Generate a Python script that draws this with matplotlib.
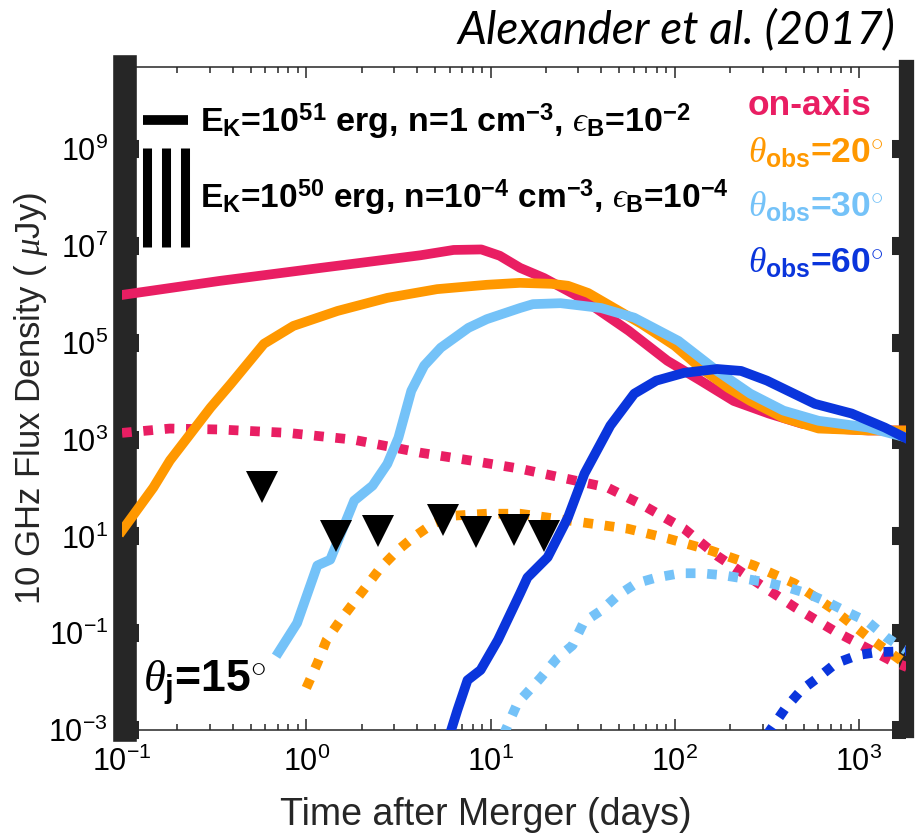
import numpy as np
import matplotlib
matplotlib.use('Agg')
import matplotlib.pyplot as plt
from matplotlib.ticker import NullLocator, LogLocator

plt.rcParams['font.family'] = 'Liberation Sans'
plt.rcParams['mathtext.fontset'] = 'custom'
plt.rcParams['mathtext.rm'] = 'Liberation Sans'
plt.rcParams['mathtext.bf'] = 'Liberation Sans:bold'
plt.rcParams['mathtext.it'] = 'Liberation Serif:italic'
plt.rcParams['mathtext.sf'] = 'Liberation Sans'
plt.rcParams['axes.unicode_minus'] = False

# colours of the four viewing angles
c_on = '#E91E63'
c_20 = '#FF9800'
c_30 = '#74C2F8'
c_60 = '#0A35DC'

# log10(days), log10(uJy)
# E_K=1e51, n=1, eps_B=1e-2 (solid)
on_hi_t = [-1.0, -0.47, 0.08, 0.62, 0.80, 0.95, 1.05, 1.16, 1.29, 1.49, 1.75, 1.96, 2.14, 2.32, 2.51, 2.69, 2.86, 3.05, 3.26]
on_hi_f = [5.99, 6.28, 6.55, 6.81, 6.92, 6.93, 6.80, 6.55, 6.34, 5.93, 5.25, 4.63, 4.22, 3.80, 3.54, 3.33, 3.23, 3.19, 3.19]

o20_hi_t = [-1.0, -0.83, -0.74, -0.52, -0.41, -0.23, -0.07, 0.17, 0.44, 0.71, 0.98, 1.16, 1.33, 1.42, 1.53, 1.67, 1.82, 2.00, 2.14, 2.29, 2.41, 2.59, 2.78, 3.05, 3.26]
o20_hi_f = [1.12, 2.01, 2.57, 3.66, 4.15, 4.98, 5.35, 5.66, 5.93, 6.11, 6.20, 6.24, 6.22, 6.18, 6.03, 5.72, 5.39, 4.94, 4.48, 4.07, 3.80, 3.45, 3.23, 3.19, 3.19]

o30_hi_t = [-0.15, -0.05, 0.06, 0.13, 0.26, 0.36, 0.44, 0.50, 0.57, 0.64, 0.73, 0.88, 0.98, 1.16, 1.23, 1.38, 1.60, 1.78, 2.02, 2.23, 2.41, 2.59, 2.78, 3.05, 3.26]
o30_hi_f = [-1.39, -0.79, 0.40, 0.52, 1.74, 2.05, 2.50, 3.04, 4.01, 4.53, 4.90, 5.31, 5.49, 5.72, 5.80, 5.82, 5.72, 5.52, 5.04, 4.42, 3.95, 3.60, 3.39, 3.25, 3.04]

o60_hi_t = [0.77, 0.82, 0.875, 0.946, 1.04, 1.16, 1.20, 1.31, 1.42, 1.51, 1.65, 1.78, 1.90, 2.05, 2.23, 2.36, 2.50, 2.76, 2.96, 3.14, 3.26]
o60_hi_f = [-3.2, -2.59, -1.97, -1.76, -1.14, -0.18, 0.15, 0.57, 1.39, 2.30, 3.29, 3.95, 4.22, 4.38, 4.46, 4.42, 4.22, 3.74, 3.54, 3.25, 3.02]

# E_K=1e50, n=1e-4, eps_B=1e-4 (dotted)
on_lo_t = [-1.0, -0.74, -0.47, -0.10, 0.255, 0.62, 0.89, 1.16, 1.38, 1.635, 1.83, 2.05, 2.23, 2.43, 2.65, 2.86, 3.065, 3.17, 3.26]
on_lo_f = [3.14, 3.23, 3.21, 3.14, 3.00, 2.73, 2.57, 2.40, 2.22, 2.01, 1.64, 1.16, 0.60, 0.09, -0.46, -0.94, -1.35, -1.56, -1.70]

o20_lo_t = [0.0, 0.06, 0.11, 0.185, 0.255, 0.33, 0.40, 0.495, 0.58, 0.69, 0.80, 0.98, 1.16, 1.50, 1.745, 1.96, 2.195, 2.43, 2.65, 2.85, 3.05, 3.26]
o20_lo_f = [-2.13, -1.62, -1.14, -0.73, -0.38, -0.01, 0.34, 0.71, 0.98, 1.27, 1.43, 1.47, 1.47, 1.29, 1.16, 0.96, 0.71, 0.40, 0.03, -0.48, -1.08, -1.65]

o30_lo_t = [1.07, 1.147, 1.27, 1.36, 1.445, 1.506, 1.60, 1.69, 1.79, 1.90, 2.03, 2.14, 2.26, 2.375, 2.50, 2.61, 2.72, 2.83, 2.94, 3.05, 3.147, 3.255]
o30_lo_f = [-3.1, -2.44, -1.93, -1.52, -1.25, -0.77, -0.53, -0.22, 0.03, 0.15, 0.24, 0.24, 0.20, 0.13, 0.05, -0.05, -0.18, -0.36, -0.57, -0.77, -1.08, -1.35]

o60_lo_t = [2.50, 2.60, 2.685, 2.78, 2.875, 2.995, 3.10, 3.26]
o60_lo_f = [-3.1, -2.55, -2.18, -1.91, -1.62, -1.45, -1.39, -1.37]

# radio upper limits
ul_t = [-0.24, 0.16, 0.39, 0.74, 0.92, 1.13, 1.29]
ul_f = [2.03, 1.00, 1.12, 1.33, 1.10, 1.14, 1.00]

fig = plt.figure(figsize=(9.21, 8.35), dpi=100)
ax = fig.add_axes([0.1325, 0.1257, 0.8513, 0.794])

dot = (0, (1, 1.2))
curves = [
    (on_lo_t, on_lo_f, c_on, dot), (o20_lo_t, o20_lo_f, c_20, dot),
    (o30_lo_t, o30_lo_f, c_30, dot), (o60_lo_t, o60_lo_f, c_60, dot),
    (on_hi_t, on_hi_f, c_on, '-'), (o20_hi_t, o20_hi_f, c_20, '-'),
    (o30_hi_t, o30_hi_f, c_30, '-'), (o60_hi_t, o60_hi_f, c_60, '-'),
]
for lt, lf, col, ls in curves:
    ax.plot(10**np.array(lt), 10**np.array(lf), color=col, ls=ls, lw=7, zorder=3)

ax.plot(10**np.array(ul_t), 10**np.array(ul_f), 'v', color='k', ms=23, mew=0, zorder=4)

ax.set_xscale('log')
ax.set_yscale('log')
ax.set_xlim(0.1, 1800)
ax.set_ylim(1e-3, 5e10)
ax.set_yticks([10.0**k for k in range(-3, 10, 2)])
ax.yaxis.set_minor_locator(NullLocator())
ax.xaxis.set_major_locator(LogLocator(base=10, numticks=10))

dark = '#262626'
for s in ['top', 'bottom']:
    ax.spines[s].set_linewidth(1.1)
    ax.spines[s].set_color(dark)
ax.spines['left'].set_linewidth(17)
ax.spines['left'].set_color(dark)
ax.spines['left'].set_position(('outward', -2))
ax.spines['right'].set_linewidth(11)
ax.spines['right'].set_color(dark)

ax.tick_params(axis='x', which='both', direction='in', top=True, bottom=True,
               color=dark, width=1.1, labelsize=22, pad=12)
ax.tick_params(axis='x', which='major', length=8)
ax.tick_params(axis='x', which='minor', length=4.5)
ax.tick_params(axis='y', which='major', direction='in', left=True, right=True,
               color=dark, width=13, length=10, labelsize=22, pad=12)

ax.set_xlabel('Time after Merger (days)', fontsize=27, color=dark)
ax.xaxis.set_label_coords(0.464, -0.101)
ax.set_ylabel(r'10 GHz Flux Density ( $\mu$Jy)', fontsize=25, color=dark)
ax.yaxis.set_label_coords(-0.092, 0.5)

# line-style key
tr = ax.transAxes
ax.plot([0.027, 0.084], [0.92, 0.92], transform=tr, color='k', lw=7,
        solid_capstyle='butt', clip_on=False, zorder=5)
for xb in [0.032, 0.056, 0.080]:
    ax.plot([xb, xb], [0.729, 0.878], transform=tr, color='k', lw=6.5,
            solid_capstyle='butt', clip_on=False, zorder=5)
ax.text(0.0995, 0.902,
        r'E$_{\mathbf{K}}$=10$^{\mathbf{51}}$ erg, n=1 cm$^{\mathbf{-3}}$, $ϵ_{\mathbf{B}}$=10$^{\mathbf{-2}}$',
        transform=tr, fontsize=24.5, fontweight='bold', va='baseline')
ax.text(0.0995, 0.787,
        r'E$_{\mathbf{K}}$=10$^{\mathbf{50}}$ erg, n=10$^{\mathbf{-4}}$ cm$^{\mathbf{-3}}$, $ϵ_{\mathbf{B}}$=10$^{\mathbf{-4}}$',
        transform=tr, fontsize=24, fontweight='bold', va='baseline')

# colour key
ax.text(0.798, 0.928, 'on-axis', transform=tr, fontsize=25.5, fontweight='bold',
        color=c_on, va='baseline')
for yb, ang, col in [(0.855, '20', c_20), (0.774, '30', c_30), (0.689, '60', c_60)]:
    ax.text(0.798, yb, r'$\theta_{\mathbf{obs}}$=' + ang + r'$^{\circ}$', transform=tr,
            fontsize=25.5, fontweight='bold', color=col, va='baseline')

ax.text(0.027, 0.057, r'$\theta_{\mathbf{j}}$=15$^{\circ}$', transform=tr,
        fontsize=32, fontweight='bold', va='baseline')

fig.text(0.972, 0.948, 'Alexander et al. (2017)', fontsize=33, style='italic',
         family='Lato', ha='right', va='baseline')

fig.savefig('out.png', dpi=100)
